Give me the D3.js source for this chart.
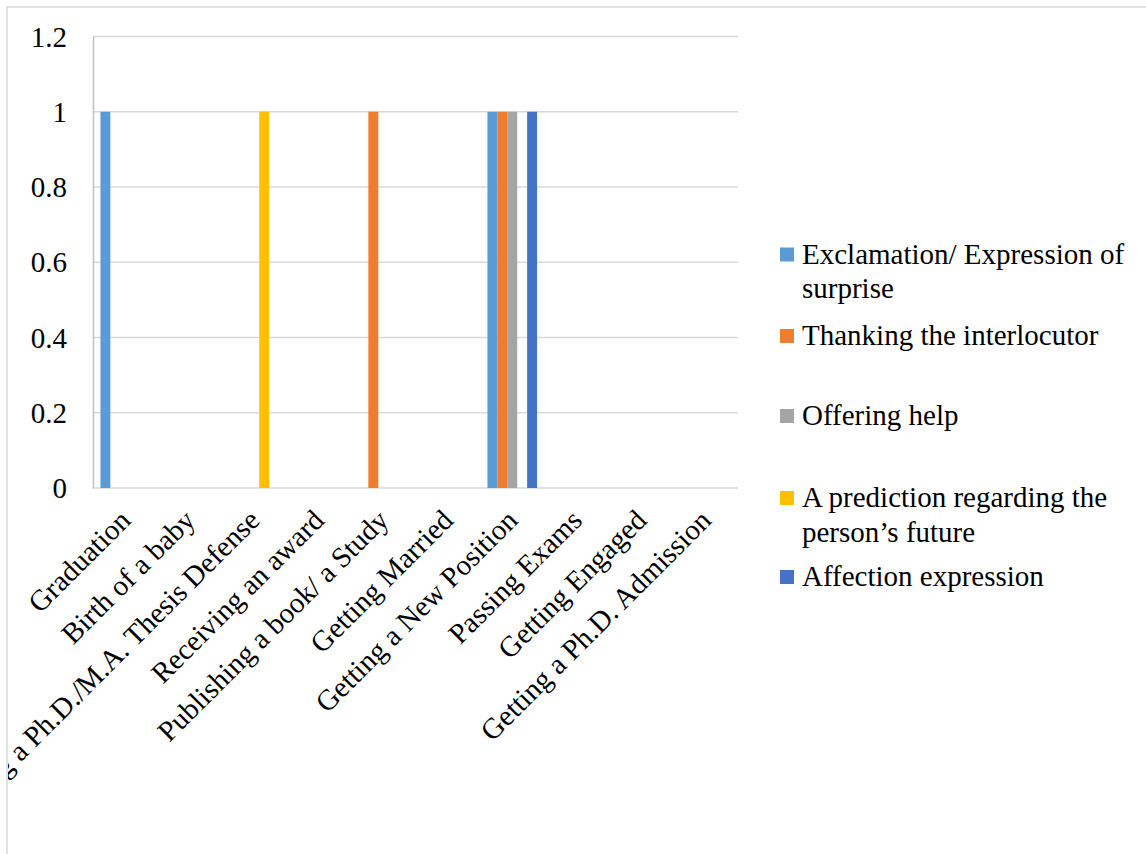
<!DOCTYPE html>
<html>
<head>
<meta charset="utf-8">
<script src="https://cdn.jsdelivr.net/npm/d3@7"></script>
<style>
  html, body { margin: 0; padding: 0; background: #fff; }
  svg { display: block; }
  svg text { font-family: "Times New Roman", "Liberation Serif", "DejaVu Serif", serif; }
</style>
</head>
<body>
<svg id="chart" width="1146" height="854"></svg>
<script>
// Occasions on which congratulations were offered
const categories = [
  "Graduation",
  "Birth of a baby",
  "Passing a Ph.D./M.A. Thesis Defense",
  "Receiving an award",
  "Publishing a book/ a Study",
  "Getting Married",
  "Getting a New Position",
  "Passing Exams",
  "Getting Engaged",
  "Getting a Ph.D. Admission"
];

// Response strategies (legend order)
const seriesNames = [
  ["Exclamation/ Expression of", "surprise"],
  ["Thanking the interlocutor"],
  ["Offering help"],
  ["A prediction regarding the", "person\u2019s future"],
  ["Affection expression"]
];
const seriesColors = ["#5B9BD5", "#ED7D31", "#A5A5A5", "#FFC000", "#4472C4"];

// Counts per occasion, one array per strategy
const exclamation = [1, 0, 0, 0, 0, 0, 1, 0, 0, 0];
const thanking    = [0, 0, 0, 0, 1, 0, 1, 0, 0, 0];
const offeringHelp = [0, 0, 0, 0, 0, 0, 1, 0, 0, 0];
const prediction  = [0, 0, 1, 0, 0, 0, 0, 0, 0, 0];
const affection   = [0, 0, 0, 0, 0, 0, 1, 0, 0, 0];
const seriesValues = [exclamation, thanking, offeringHelp, prediction, affection];

const yTicks = [0, 0.2, 0.4, 0.6, 0.8, 1, 1.2];
const yTickLabels = ["0", "0.2", "0.4", "0.6", "0.8", "1", "1.2"];

const svg = d3.select("#chart");
const plot = { left: 93, right: 738, top: 36.5, bottom: 488 };
const fontSize = 29;
const serif = "'Times New Roman', 'Liberation Serif', 'DejaVu Serif', serif";

// chart frame
svg.append("rect")
  .attr("x", 7).attr("y", 7)
  .attr("width", 1200).attr("height", 900)
  .attr("fill", "#fff")
  .attr("stroke", "#d9d9d9").attr("stroke-width", 1.5);

svg.append("clipPath").attr("id", "frame")
  .append("rect").attr("x", 8).attr("y", 8).attr("width", 1200).attr("height", 900);

const x0 = d3.scaleBand()
  .domain(d3.range(categories.length))
  .range([plot.left, plot.right])
  .paddingInner(1.5 / 6.5)
  .paddingOuter(0.75 / 6.5);

const x1 = d3.scaleBand()
  .domain(d3.range(seriesValues.length))
  .range([0, x0.bandwidth()]);

const y = d3.scaleLinear().domain([0, 1.2]).range([plot.bottom, plot.top]);

// horizontal gridlines
svg.append("g")
  .selectAll("line")
  .data(yTicks)
  .join("line")
  .attr("x1", plot.left).attr("x2", plot.right)
  .attr("y1", d => y(d)).attr("y2", d => y(d))
  .attr("stroke", "#d9d9d9").attr("stroke-width", 1.5);

// value axis
const yAxis = svg.append("g")
  .attr("transform", `translate(${plot.left},0)`)
  .call(d3.axisLeft(y).tickValues(yTicks)
    .tickFormat((d, i) => yTickLabels[i])
    .tickSize(0).tickPadding(26))
  .attr("font-family", serif)
  .attr("font-size", fontSize);
yAxis.select(".domain").attr("stroke", "#bfbfbf").attr("stroke-width", 1.5);
yAxis.selectAll("text")
  .attr("fill", "#000")
  .attr("dy", "0.33em");

// bars
const groups = svg.append("g")
  .selectAll("g")
  .data(seriesValues)
  .join("g")
  .attr("fill", (d, i) => seriesColors[i]);

groups.each(function (vals, si) {
  d3.select(this).selectAll("rect")
    .data(vals.map((v, ci) => ({ v, ci })).filter(d => d.v > 0))
    .join("rect")
    .attr("x", d => x0(d.ci) + x1(si))
    .attr("width", x1.bandwidth())
    .attr("y", d => y(d.v))
    .attr("height", d => y(0) - y(d.v));
});

// category labels, rotated
svg.append("g")
  .attr("clip-path", "url(#frame)")
  .attr("font-family", serif)
  .selectAll("text")
  .data(categories)
  .join("text")
  .attr("transform", (d, i) => `translate(${x0(i) + x0.bandwidth() / 2 + 7},${plot.bottom + 34}) rotate(-45)`)
  .attr("text-anchor", "end")
  .attr("font-size", fontSize)
  .attr("fill", "#000")
  .text(d => d);

// legend
const legendEntries = [
  { baseline: 263.5 },
  { baseline: 345 },
  { baseline: 425 },
  { baseline: 507 },
  { baseline: 586 }
];
const legend = svg.append("g").attr("font-family", serif);
legendEntries.forEach((e, i) => {
  legend.append("rect")
    .attr("x", 780).attr("y", e.baseline - 16)
    .attr("width", 14).attr("height", 14)
    .attr("fill", seriesColors[i]);
  const t = legend.append("text")
    .attr("x", 802).attr("y", e.baseline)
    .attr("font-size", fontSize)
    .attr("fill", "#000");
  seriesNames[i].forEach((line, li) => {
    t.append("tspan")
      .attr("x", 802)
      .attr("dy", li === 0 ? 0 : 34.5)
      .text(line);
  });
});
</script>
</body>
</html>
